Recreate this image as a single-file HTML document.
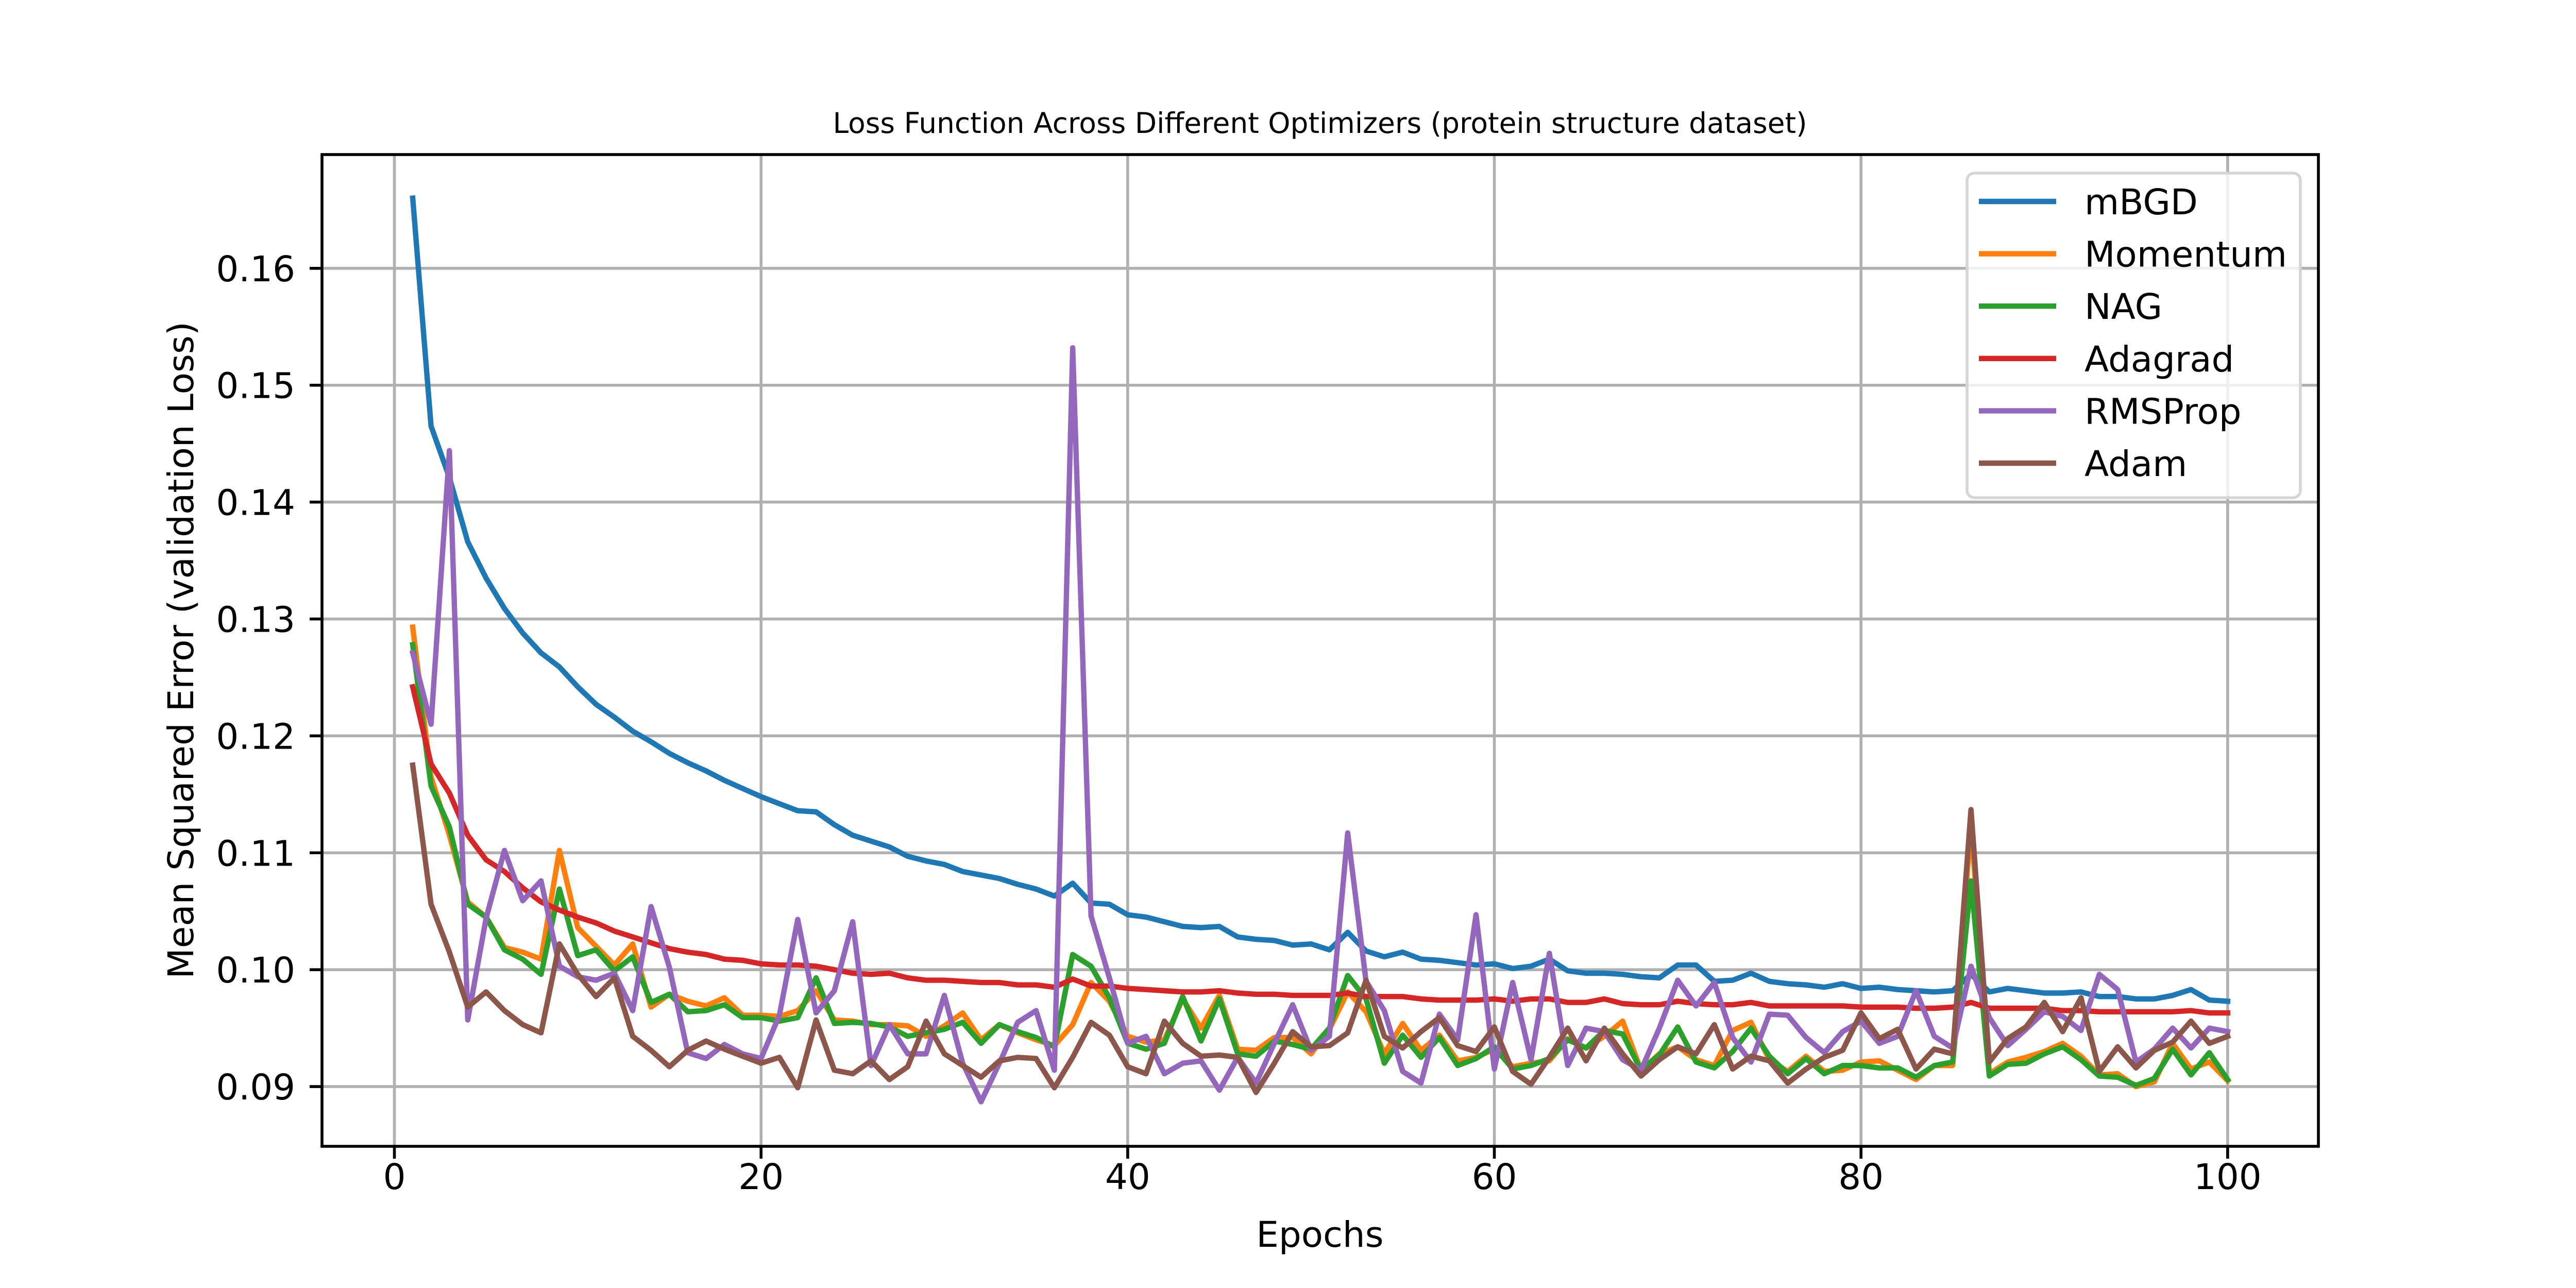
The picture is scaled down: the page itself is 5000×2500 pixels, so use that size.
<!DOCTYPE html>
<html><head><meta charset="utf-8"><style>
html,body{margin:0;padding:0;background:#fff;}
svg{display:block;font-family:"DejaVu Sans","Liberation Sans",sans-serif;}
</style></head><body>
<svg id="chart" width="5000" height="2500" viewBox="0 0 5000 2500" xmlns="http://www.w3.org/2000/svg">
<rect x="0" y="0" width="5000" height="2500" fill="#fff"/>
<g id="grid"></g>
<g id="series"></g>
<g id="axes"></g>
<g id="legend"></g>
<text x="2562" y="258" font-size="55" text-anchor="middle">Loss Function Across Different Optimizers (protein structure dataset)</text>
<text x="2562" y="2420" font-size="69" text-anchor="middle">Epochs</text>
<text x="0" y="0" font-size="69" text-anchor="middle" transform="translate(375,1262) rotate(-90)">Mean Squared Error (validation Loss)</text>
</svg>
<script>
const seriesNames = ["mBGD","Momentum","NAG","Adagrad","RMSProp","Adam"];
const seriesColors = ["#1f77b4","#ff7f0e","#2ca02c","#d62728","#9467bd","#8c564b"];
const xTicks = [0,20,40,60,80,100];
const yTicks = [0.09,0.10,0.11,0.12,0.13,0.14,0.15,0.16];
const yTickLabels = ["0.09","0.10","0.11","0.12","0.13","0.14","0.15","0.16"];
const mBGD = [0.1660,0.1465,0.1421,0.1366,0.1335,0.1309,0.1288,0.1271,0.1259,0.1242,0.1227,0.1216,0.1204,0.1195,0.1185,0.1177,0.1170,0.1162,0.1155,0.1148,0.1142,0.1136,0.1135,0.1124,0.1115,0.1110,0.1105,0.1097,0.1093,0.1090,0.1084,0.1081,0.1078,0.1073,0.1069,0.1063,0.1074,0.1057,0.1056,0.1047,0.1045,0.1041,0.1037,0.1036,0.1037,0.1028,0.1026,0.1025,0.1021,0.1022,0.1017,0.1032,0.1016,0.1011,0.1015,0.1009,0.1008,0.1006,0.1004,0.1005,0.1001,0.1003,0.1009,0.0999,0.0997,0.0997,0.0996,0.0994,0.0993,0.1004,0.1004,0.0990,0.0991,0.0997,0.0990,0.0988,0.0987,0.0985,0.0988,0.0984,0.0985,0.0983,0.0982,0.0981,0.0982,0.0996,0.0981,0.0984,0.0982,0.0980,0.0980,0.0981,0.0977,0.0977,0.0975,0.0975,0.0978,0.0983,0.0974,0.0973];
const momentum = [0.1293,0.1165,0.1115,0.1058,0.1045,0.1019,0.1015,0.1009,0.1102,0.1036,0.1020,0.1004,0.1022,0.0968,0.0979,0.0973,0.0969,0.0976,0.0961,0.0961,0.0960,0.0965,0.0982,0.0957,0.0956,0.0953,0.0953,0.0952,0.0943,0.0952,0.0963,0.0940,0.0953,0.0946,0.0940,0.0935,0.0953,0.0989,0.0973,0.0943,0.0938,0.0940,0.0975,0.0950,0.0978,0.0932,0.0931,0.0942,0.0942,0.0928,0.0949,0.0981,0.0964,0.0928,0.0954,0.0931,0.0944,0.0922,0.0925,0.0932,0.0917,0.0920,0.0922,0.0941,0.0933,0.0943,0.0956,0.0914,0.0928,0.0934,0.0923,0.0918,0.0948,0.0955,0.0923,0.0913,0.0926,0.0913,0.0914,0.0921,0.0922,0.0914,0.0906,0.0918,0.0918,0.1125,0.0911,0.0921,0.0925,0.0930,0.0937,0.0926,0.0910,0.0911,0.0900,0.0904,0.0937,0.0915,0.0921,0.0905];
const nag = [0.1278,0.1157,0.1122,0.1056,0.1045,0.1017,0.1009,0.0996,0.1069,0.1012,0.1017,0.0999,0.1011,0.0972,0.0979,0.0964,0.0965,0.0970,0.0959,0.0959,0.0956,0.0959,0.0993,0.0954,0.0955,0.0954,0.0951,0.0943,0.0946,0.0949,0.0955,0.0937,0.0953,0.0947,0.0942,0.0934,0.1013,0.1003,0.0976,0.0937,0.0932,0.0937,0.0977,0.0939,0.0975,0.0928,0.0926,0.0939,0.0936,0.0932,0.0950,0.0995,0.0975,0.0920,0.0944,0.0925,0.0942,0.0918,0.0924,0.0934,0.0915,0.0918,0.0924,0.0940,0.0933,0.0948,0.0945,0.0914,0.0927,0.0951,0.0921,0.0916,0.0930,0.0950,0.0926,0.0911,0.0924,0.0911,0.0918,0.0918,0.0916,0.0916,0.0908,0.0918,0.0921,0.1076,0.0909,0.0919,0.0920,0.0928,0.0934,0.0923,0.0909,0.0908,0.0901,0.0907,0.0932,0.0910,0.0929,0.0906];
const adagrad = [0.1242,0.1176,0.1151,0.1115,0.1094,0.1084,0.1070,0.1058,0.1051,0.1045,0.1040,0.1033,0.1028,0.1023,0.1018,0.1015,0.1013,0.1009,0.1008,0.1005,0.1004,0.1004,0.1003,0.1000,0.0997,0.0996,0.0997,0.0993,0.0991,0.0991,0.0990,0.0989,0.0989,0.0987,0.0987,0.0985,0.0992,0.0986,0.0986,0.0984,0.0983,0.0982,0.0981,0.0981,0.0982,0.0980,0.0979,0.0979,0.0978,0.0978,0.0978,0.0980,0.0977,0.0977,0.0977,0.0975,0.0974,0.0974,0.0974,0.0975,0.0973,0.0975,0.0975,0.0972,0.0972,0.0975,0.0971,0.0970,0.0970,0.0973,0.0971,0.0970,0.0970,0.0972,0.0969,0.0969,0.0969,0.0969,0.0969,0.0968,0.0968,0.0968,0.0967,0.0967,0.0968,0.0972,0.0967,0.0967,0.0967,0.0967,0.0965,0.0965,0.0964,0.0964,0.0964,0.0964,0.0964,0.0965,0.0963,0.0963];
const rmsprop = [0.1271,0.1210,0.1444,0.0957,0.1044,0.1102,0.1059,0.1076,0.1003,0.0994,0.0991,0.0997,0.0965,0.1054,0.1002,0.0929,0.0924,0.0936,0.0928,0.0924,0.0961,0.1043,0.0963,0.0982,0.1041,0.0918,0.0953,0.0928,0.0928,0.0978,0.0920,0.0887,0.0920,0.0955,0.0965,0.0914,0.1532,0.1046,0.0993,0.0937,0.0943,0.0911,0.0920,0.0922,0.0897,0.0925,0.0903,0.0937,0.0970,0.0931,0.0943,0.1117,0.0990,0.0965,0.0913,0.0903,0.0962,0.0940,0.1047,0.0915,0.0989,0.0923,0.1014,0.0918,0.0950,0.0947,0.0923,0.0914,0.0950,0.0991,0.0969,0.0989,0.0942,0.0921,0.0962,0.0961,0.0942,0.0929,0.0947,0.0956,0.0937,0.0943,0.0982,0.0943,0.0933,0.1003,0.0959,0.0935,0.0949,0.0964,0.0960,0.0948,0.0996,0.0983,0.0921,0.0932,0.0950,0.0933,0.0950,0.0947];
const adam = [0.1175,0.1056,0.1015,0.0968,0.0981,0.0965,0.0953,0.0946,0.1022,0.0996,0.0977,0.0993,0.0943,0.0931,0.0917,0.0931,0.0939,0.0932,0.0926,0.0920,0.0925,0.0899,0.0957,0.0914,0.0911,0.0922,0.0906,0.0917,0.0956,0.0928,0.0918,0.0908,0.0922,0.0925,0.0924,0.0899,0.0925,0.0955,0.0944,0.0917,0.0911,0.0956,0.0937,0.0926,0.0927,0.0925,0.0895,0.0920,0.0947,0.0934,0.0935,0.0946,0.0991,0.0943,0.0933,0.0947,0.0959,0.0935,0.0930,0.0951,0.0913,0.0902,0.0925,0.0950,0.0922,0.0950,0.0928,0.0909,0.0923,0.0934,0.0928,0.0953,0.0915,0.0926,0.0922,0.0903,0.0915,0.0925,0.0931,0.0963,0.0941,0.0949,0.0915,0.0932,0.0928,0.1137,0.0921,0.0941,0.0951,0.0972,0.0947,0.0976,0.0913,0.0934,0.0916,0.0931,0.0938,0.0956,0.0937,0.0943];
const allSeries = [mBGD, momentum, nag, adagrad, rmsprop, adam];

const NS = "http://www.w3.org/2000/svg";
const L = 625, R = 4500, T = 300, B = 2225;
const xMin = -3.95, xMax = 104.95, yMin = 0.08489, yMax = 0.16973;
function xs(v){ return L + (v - xMin) / (xMax - xMin) * (R - L); }
function ys(v){ return B - (v - yMin) / (yMax - yMin) * (B - T); }
function mk(tag, attrs, parent){ const e = document.createElementNS(NS, tag); for (const k in attrs) e.setAttribute(k, attrs[k]); parent.appendChild(e); return e; }

const grid = document.getElementById('grid');
const axes = document.getElementById('axes');
xTicks.forEach((t) => {
  const g = mk('line', {x1: xs(t), x2: xs(t), y1: T, y2: B, stroke: '#b0b0b0', 'stroke-width': 5.6}, grid);
  
  
  const tk = mk('line', {x1: xs(t), x2: xs(t), y1: B, y2: B + 24, stroke: '#000', 'stroke-width': 5.6}, axes);
  
  
  const lb = mk('text', {x: xs(t), y: 2308, 'font-size': 69, 'text-anchor': 'middle'}, axes);
  lb.textContent = String(t);
  
  
});
yTicks.forEach((t, i) => {
  const g = mk('line', {x1: L, x2: R, y1: ys(t), y2: ys(t), stroke: '#b0b0b0', 'stroke-width': 5.6}, grid);
  
  
  const tk = mk('line', {x1: L - 24, x2: L, y1: ys(t), y2: ys(t), stroke: '#000', 'stroke-width': 5.6}, axes);
  
  
  const lb = mk('text', {x: 573, y: ys(t) + 25, 'font-size': 69, 'text-anchor': 'end'}, axes);
  lb.textContent = yTickLabels[i];
  
  
});
const frame = mk('rect', {x: L, y: T, width: R - L, height: B - T, fill: 'none', stroke: '#000', 'stroke-width': 5.6}, axes);



const sg = document.getElementById('series');
allSeries.forEach((arr, s) => {
  const pts = arr.map((v, i) => xs(i + 1).toFixed(1) + ',' + ys(v).toFixed(1)).join(' ');
  const pl = mk('polyline', {points: pts, fill: 'none', stroke: seriesColors[s], 'stroke-width': 10.4, 'stroke-linejoin': 'round', 'stroke-linecap': 'square'}, sg);
  
  
});

const lg = document.getElementById('legend');
const box = mk('rect', {x: 3818, y: 336, width: 647, height: 630, rx: 14, fill: '#fff', 'fill-opacity': 0.8, stroke: '#d5d5d5', 'stroke-width': 5.6}, lg);


seriesNames.forEach((n, s) => {
  const cy = 391 + s * 101.6;
  const ln = mk('line', {x1: 3841, x2: 3991, y1: cy, y2: cy, stroke: seriesColors[s], 'stroke-width': 10.4}, lg);
  
  
  const tx = mk('text', {x: 4046, y: cy + 25, 'font-size': 69}, lg);
  tx.textContent = n;
  
  
});
</script>
</body></html>
